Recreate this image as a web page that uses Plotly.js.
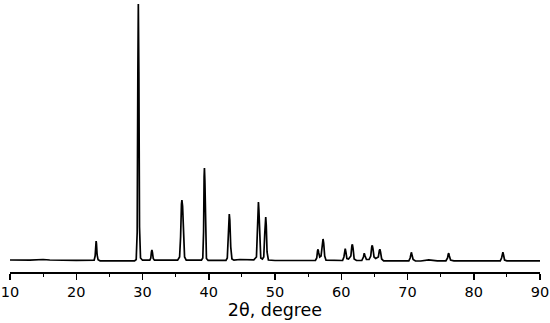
<!DOCTYPE html>
<html><head><meta charset="utf-8">
<script src="https://cdn.plot.ly/plotly-3.0.1.min.js"></script>
<style>html,body{margin:0;padding:0;background:#fff}#c{width:550px;height:323px}</style>
</head><body><div id="c"></div>
<script>
const twoTheta = [
10,13,15,16,20,22.5,
22.7,22.85,22.95,23.0,23.05,23.15,23.3,23.6,25,28.8,
29.05,29.2,29.3,29.37,29.45,29.55,29.7,30,31.1,
31.25,31.35,31.42,31.5,31.62,31.8,35.3,
35.6,35.75,35.88,35.95,36.05,36.2,36.35,36.6,38.9,
39.1,39.22,39.3,39.35,39.42,39.52,39.65,39.9,42.6,
42.8,42.95,43.05,43.1,43.18,43.32,43.5,43.8,44.7,46.8,
47.2,47.35,47.45,47.5,47.57,47.7,47.85,48.1,
48.3,48.45,48.55,48.6,48.68,48.8,49.0,50,56.1,
56.3,56.42,56.5,56.6,56.75,
56.95,57.15,57.25,57.35,57.5,57.7,60.2,
60.4,60.52,60.6,60.7,60.85,61.1,
61.45,61.6,61.68,61.78,61.95,62.3,63.1,
63.35,63.47,63.6,63.8,64.2,
64.45,64.6,64.68,64.78,64.95,65.2,
65.6,65.75,65.83,65.93,66.1,66.4,70.2,
70.4,70.52,70.58,70.68,70.85,71.2,72,73.2,74.5,75.8,
76.05,76.15,76.22,76.32,76.5,77,84,
84.2,84.32,84.4,84.5,84.65,85,90
];
const intensity = [
120,118,125,120,116,116,
118,160,280,310,285,170,122,112,112,112,
125,400,2000,2680,2000,450,140,118,118,
140,200,220,195,135,118,118,
150,350,680,720,660,330,150,118,118,
140,400,950,1040,900,350,135,116,116,
140,330,560,580,520,250,130,118,125,122,
150,400,680,700,620,250,140,130,
150,380,540,550,470,200,120,115,115,
140,210,227,190,150,
160,280,330,290,160,118,115,
150,220,233,200,135,130,
160,260,277,240,130,115,115,
150,187,160,125,125,
160,250,267,235,150,135,
150,215,227,200,130,112,112,
140,190,197,170,125,110,110,122,112,112,
140,180,187,160,120,112,112,
140,190,197,170,120,112,112
];
const xTickVals = [10,20,30,40,50,60,70,80,90];
const xTitle = "2θ, degree";

Plotly.newPlot('c', [{
  x: twoTheta, y: intensity, type: 'scatter', mode: 'lines',
  line: {color: '#000', width: 1.7}, hoverinfo: 'skip'
}], {
  width: 550, height: 323,
  margin: {l: 10, r: 10, t: 2, b: 51},
  paper_bgcolor: '#fff', plot_bgcolor: '#fff',
  showlegend: false,
  font: {family: 'DejaVu Sans, Arial, sans-serif', color: '#000', size: 14},
  xaxis: {
    range: [10, 90], tickvals: xTickVals, ticks: 'outside', ticklen: 6, tickwidth: 1.5, tickcolor: '#000',
    minor: {dtick: 5, ticks: 'outside', ticklen: 3, tickwidth: 1.2, tickcolor: '#000'},
    showline: true, linecolor: '#000', linewidth: 1.5, showgrid: false, zeroline: false,
    tickfont: {size: 14.5}, title: {text: xTitle, font: {size: 17.5}, standoff: 4}
  },
  yaxis: {range: [0, 2700], visible: false, showgrid: false, zeroline: false}
}, {staticPlot: true});
</script></body></html>
